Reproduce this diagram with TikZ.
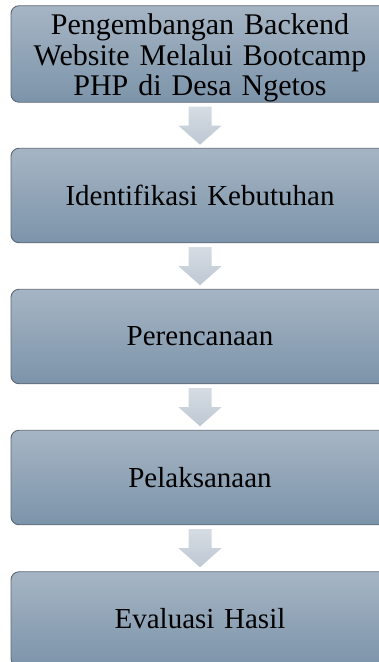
\documentclass[tikz,border=0pt]{standalone}
\usepackage{fontspec}
\setmainfont{Liberation Serif}
\definecolor{boxtop}{RGB}{166,181,196}
\definecolor{boxbottom}{RGB}{124,148,170}
\definecolor{boxline}{RGB}{92,102,114}
\definecolor{arrtop}{RGB}{216,222,229}
\definecolor{arrbottom}{RGB}{190,200,211}
\begin{document}
\begin{tikzpicture}[x=1pt,y=1pt]

\tikzset{tahap/.style={rectangle,rounded corners=8pt,minimum width=378pt,minimum height=94.5pt,inner sep=0pt,text width=360pt,align=center,draw=boxline,line width=0.9pt,top color=boxtop,bottom color=boxbottom,font=\fontsize{29}{29.6}\selectfont},}
\tikzset{judul/.style={font=\fontsize{30}{30.5}\selectfont},}
\tikzset{panah/.style={top color=arrtop,bottom color=arrbottom,draw=none},}

\useasboundingbox (0,0) rectangle (379,-662);
\clip (0,0) rectangle (379,-662);

	\draw
		(200,-54) node[tahap,judul] (t1) {\rule{0pt}{29pt}Pengembangan Backend\\Website Melalui Bootcamp\\PHP di Desa Ngetos}
		(200,-195.5) node[tahap] (t2) {Identifikasi Kebutuhan}
		(200,-336.5) node[tahap] (t3) {Perencanaan}
		(200,-477.5) node[tahap] (t4) {Pelaksanaan}
		(200,-619) node[tahap] (t5) {Evaluasi Hasil}
;

\foreach \a/\b in {t1/t2,t2/t3,t3/t4,t4/t5}
	\path[panah] (\a.south) ++(-11.5,-4) -- ++(23,0) -- ++(0,-19) -- ++(10,0) -- ++(-21.5,-19) -- ++(-21.5,19) -- ++(10,0) -- cycle;

\end{tikzpicture}
\end{document}
